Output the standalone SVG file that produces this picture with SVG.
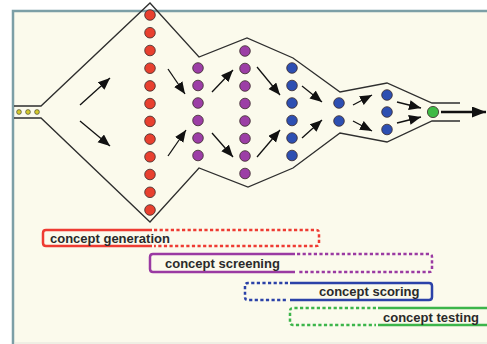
<svg xmlns="http://www.w3.org/2000/svg" width="487" height="344" viewBox="0 0 487 344">
<style>
.fun{fill:none;stroke:#2e2e2e;stroke-width:1.3;stroke-linejoin:miter}
.dot{stroke:#3a2a2a;stroke-width:0.8}
.r{fill:#e8402f}.p{fill:#9c3ea6}.b{fill:#2d4fb2}.g{fill:#3fba45}
.y{fill:#d4c92a;stroke:#333;stroke-width:0.6}
.arr{stroke:#111;stroke-width:1.3;fill:none;marker-end:url(#ah)}
.bar{fill:none;stroke-width:2.5}
.dt{stroke-dasharray:3.2 2.4}
.lbl{font-family:"Liberation Sans",Arial,sans-serif;font-weight:bold;font-size:13px;fill:#2a2a2a}
</style>
<defs>
<marker id="ah" markerUnits="userSpaceOnUse" markerWidth="14" markerHeight="12" refX="12" refY="5" orient="auto">
<path d="M0,0 L12,5 L0,10 z" fill="#111"/>
</marker>
<marker id="ah2" markerUnits="userSpaceOnUse" markerWidth="15" markerHeight="12" refX="14" refY="5.5" orient="auto">
<path d="M0,0 L14,5.5 L0,11 z" fill="#111"/>
</marker>
</defs>
<rect x="0" y="0" width="487" height="344" fill="#ffffff"/>
<rect id="frame" x="13" y="11" width="490" height="345" fill="#fbfaec" stroke="#7c9fa6" stroke-width="2.5"/>
<line x1="14" y1="343" x2="487" y2="343" stroke="#e4e4dc" stroke-width="1"/>
<g id="funnel">
<path class="fun" d="M14,106 L41,106 L150,3 L199,57 L247,38 L293,58 L340,92 L387,83 L432,103 L460,103"/>
<path class="fun" d="M14,118 L41,118 L150,222 L199,168 L248,187 L293,168 L340,133 L387,142 L432,121 L460,121"/>
</g>
<g id="input-ideas">
<circle class="y" cx="19" cy="112" r="2.4"/>
<circle class="y" cx="28" cy="112" r="2.4"/>
<circle class="y" cx="37" cy="112" r="2.4"/>
</g>
<g id="col-red">
<circle class="dot r" cx="150" cy="15" r="5.3"/>
<circle class="dot r" cx="150" cy="32.7" r="5.3"/>
<circle class="dot r" cx="150" cy="50.5" r="5.3"/>
<circle class="dot r" cx="150" cy="68.2" r="5.3"/>
<circle class="dot r" cx="150" cy="85.9" r="5.3"/>
<circle class="dot r" cx="150" cy="103.6" r="5.3"/>
<circle class="dot r" cx="150" cy="121.4" r="5.3"/>
<circle class="dot r" cx="150" cy="139.1" r="5.3"/>
<circle class="dot r" cx="150" cy="156.8" r="5.3"/>
<circle class="dot r" cx="150" cy="174.5" r="5.3"/>
<circle class="dot r" cx="150" cy="192.3" r="5.3"/>
<circle class="dot r" cx="150" cy="210" r="5.3"/>
</g>
<g id="col-purple-1">
<circle class="dot p" cx="198" cy="68" r="5.3"/>
<circle class="dot p" cx="198" cy="85.5" r="5.3"/>
<circle class="dot p" cx="198" cy="103" r="5.3"/>
<circle class="dot p" cx="198" cy="120.5" r="5.3"/>
<circle class="dot p" cx="198" cy="138" r="5.3"/>
<circle class="dot p" cx="198" cy="155.5" r="5.3"/>
</g>
<g id="col-purple-2">
<circle class="dot p" cx="245" cy="51" r="5.3"/>
<circle class="dot p" cx="245" cy="68.5" r="5.3"/>
<circle class="dot p" cx="245" cy="86" r="5.3"/>
<circle class="dot p" cx="245" cy="103.5" r="5.3"/>
<circle class="dot p" cx="245" cy="121" r="5.3"/>
<circle class="dot p" cx="245" cy="138.5" r="5.3"/>
<circle class="dot p" cx="245" cy="156" r="5.3"/>
<circle class="dot p" cx="245" cy="173.5" r="5.3"/>
</g>
<g id="col-blue-1">
<circle class="dot b" cx="292" cy="68" r="5.3"/>
<circle class="dot b" cx="292" cy="85.5" r="5.3"/>
<circle class="dot b" cx="292" cy="103" r="5.3"/>
<circle class="dot b" cx="292" cy="120.5" r="5.3"/>
<circle class="dot b" cx="292" cy="138" r="5.3"/>
<circle class="dot b" cx="292" cy="155.5" r="5.3"/>
</g>
<g id="col-blue-2">
<circle class="dot b" cx="339" cy="103" r="5.3"/>
<circle class="dot b" cx="339" cy="121" r="5.3"/>
</g>
<g id="col-blue-3">
<circle class="dot b" cx="387" cy="95" r="5.3"/>
<circle class="dot b" cx="387" cy="112" r="5.3"/>
<circle class="dot b" cx="387" cy="129.5" r="5.3"/>
</g>
<g id="winner">
<circle class="dot g" cx="433" cy="112" r="5.6"/>
</g>
<g id="connectors">
<line class="arr" x1="80" y1="105" x2="110" y2="78"/>
<line class="arr" x1="80" y1="121" x2="110" y2="146"/>
<line class="arr" x1="168" y1="69" x2="185" y2="94"/>
<line class="arr" x1="168" y1="156" x2="186" y2="130"/>
<line class="arr" x1="212" y1="92" x2="233" y2="70"/>
<line class="arr" x1="212" y1="133" x2="233" y2="157"/>
<line class="arr" x1="257" y1="67" x2="280" y2="95"/>
<line class="arr" x1="257" y1="157" x2="280" y2="130"/>
<line class="arr" x1="302" y1="86" x2="322" y2="102"/>
<line class="arr" x1="302" y1="138" x2="322" y2="120"/>
<line class="arr" x1="353" y1="105" x2="372" y2="95"/>
<line class="arr" x1="353" y1="121" x2="372" y2="131"/>
<line class="arr" x1="397" y1="102" x2="421" y2="108"/>
<line class="arr" x1="397" y1="123" x2="421" y2="117"/>
<line x1="441" y1="112" x2="486" y2="112" stroke="#111" stroke-width="2.4" marker-end="url(#ah2)"/>
</g>
<g id="bar-generation">
<path class="bar" stroke="#ee3b32" d="M152,230 H46 Q43,230 43,233 V243 Q43,246 46,246 H152"/>
<path class="bar dt" stroke="#ee3b32" d="M154,230 H316 Q319,230 319,233 V243 Q319,246 316,246 H154"/>
<text class="lbl" x="50" y="242.5">concept generation</text>
</g>
<g id="bar-screening">
<path class="bar" stroke="#9a3aa2" d="M295,254 H153 Q150,254 150,257 V269 Q150,272 153,272 H295"/>
<path class="bar dt" stroke="#9a3aa2" d="M297,254 H429 Q432,254 432,257 V269 Q432,272 429,272 H297"/>
<text class="lbl" x="165" y="267.5">concept screening</text>
</g>
<g id="bar-scoring">
<path class="bar dt" stroke="#2b42a8" d="M288,283 H248 Q245,283 245,286 V297 Q245,300 248,300 H288"/>
<path class="bar" stroke="#2b42a8" d="M290,283 H429 Q432,283 432,286 V297 Q432,300 429,300 H290"/>
<text class="lbl" x="319" y="296">concept scoring</text>
</g>
<g id="bar-testing">
<path class="bar dt" stroke="#3cb54a" d="M376,308 H293 Q290,308 290,311 V322 Q290,325 293,325 H376"/>
<path class="bar" stroke="#3cb54a" d="M378,308 H500 M378,325 H500"/>
<text class="lbl" x="383" y="321.5">concept testing</text>
</g>
</svg>
